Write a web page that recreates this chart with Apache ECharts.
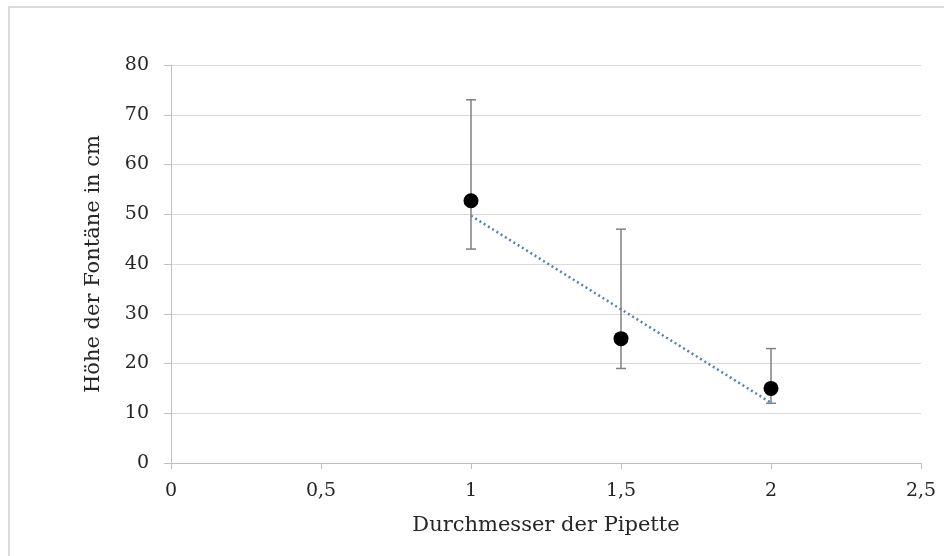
<!DOCTYPE html>
<html><head><meta charset="utf-8">
<script src="https://cdn.jsdelivr.net/npm/echarts@6/dist/echarts.min.js"></script>
<style>html,body{margin:0;padding:0;background:#fff}#c{width:944px;height:556px}</style>
</head><body><div id="c"></div>
<script>
const xValues = [1, 1.5, 2];
const yValues = [52.7, 25, 15];
const errLow = [43, 19, 12];
const errHigh = [73, 47, 23];
const trendX = [1, 2];
const trendY = [49.7, 12.1];
const xTicks = ['0', '0,5', '1', '1,5', '2', '2,5'];
const xTitle = 'Durchmesser der Pipette';
const yTitle = 'Höhe der Fontäne in cm';

const font = '"DejaVu Serif", "Liberation Serif", serif';
const chart = echarts.init(document.getElementById('c'), null, {renderer: 'canvas'});
chart.setOption({
  animation: false,
  backgroundColor: '#fff',
  graphic: [{type: 'rect', shape: {x: 9, y: 7, width: 960, height: 600}, style: {fill: 'none', stroke: '#d0d0d0', lineWidth: 1.5}, silent: true}],
  grid: {left: 171, right: 23, top: 65, bottom: 93},
  xAxis: {
    type: 'value', min: 0, max: 2.5, interval: 0.5,
    name: xTitle, nameLocation: 'middle', nameGap: 52,
    nameTextStyle: {fontFamily: font, fontSize: 21, color: '#262626'},
    axisLine: {show: true, lineStyle: {color: '#bfbfbf', width: 1}},
    axisTick: {show: true, length: 6, lineStyle: {color: '#bfbfbf'}},
    axisLabel: {margin: 19, fontFamily: font, fontSize: 19, color: '#262626',
      formatter: v => xTicks[Math.round(v / 0.5)]},
    splitLine: {show: false}
  },
  yAxis: {
    type: 'value', min: 0, max: 80, interval: 10,
    name: yTitle, nameLocation: 'middle', nameGap: 67,
    nameTextStyle: {fontFamily: font, fontSize: 21, color: '#262626'},
    axisLine: {show: true, lineStyle: {color: '#bfbfbf', width: 1}},
    axisTick: {show: true, length: 7, lineStyle: {color: '#bfbfbf'}},
    axisLabel: {margin: 22, fontFamily: font, fontSize: 19, color: '#262626'},
    splitLine: {show: true, lineStyle: {color: '#d9d9d9', width: 1}}
  },
  series: [
    {
      type: 'line', data: trendX.map((x, i) => [x, trendY[i]]),
      symbol: 'none', lineStyle: {color: '#4f81bd', width: 2.5, type: [2, 3]}, z: 3
    },
    {
      type: 'custom',
      data: xValues.map((x, i) => [x, errLow[i], errHigh[i]]),
      renderItem: function (params, api) {
        const lo = api.coord([api.value(0), api.value(1)]);
        const hi = api.coord([api.value(0), api.value(2)]);
        const w = 5;
        const st = {stroke: '#808080', lineWidth: 1.5};
        return {type: 'group', children: [
          {type: 'line', shape: {x1: lo[0], y1: lo[1], x2: hi[0], y2: hi[1]}, style: st},
          {type: 'line', shape: {x1: lo[0] - w, y1: lo[1], x2: lo[0] + w, y2: lo[1]}, style: st},
          {type: 'line', shape: {x1: hi[0] - w, y1: hi[1], x2: hi[0] + w, y2: hi[1]}, style: st}
        ]};
      }, z: 4
    },
    {
      type: 'scatter', data: xValues.map((x, i) => [x, yValues[i]]),
      symbol: 'circle', symbolSize: 15, itemStyle: {color: '#000', opacity: 1}, z: 5
    }
  ]
});
</script></body></html>
